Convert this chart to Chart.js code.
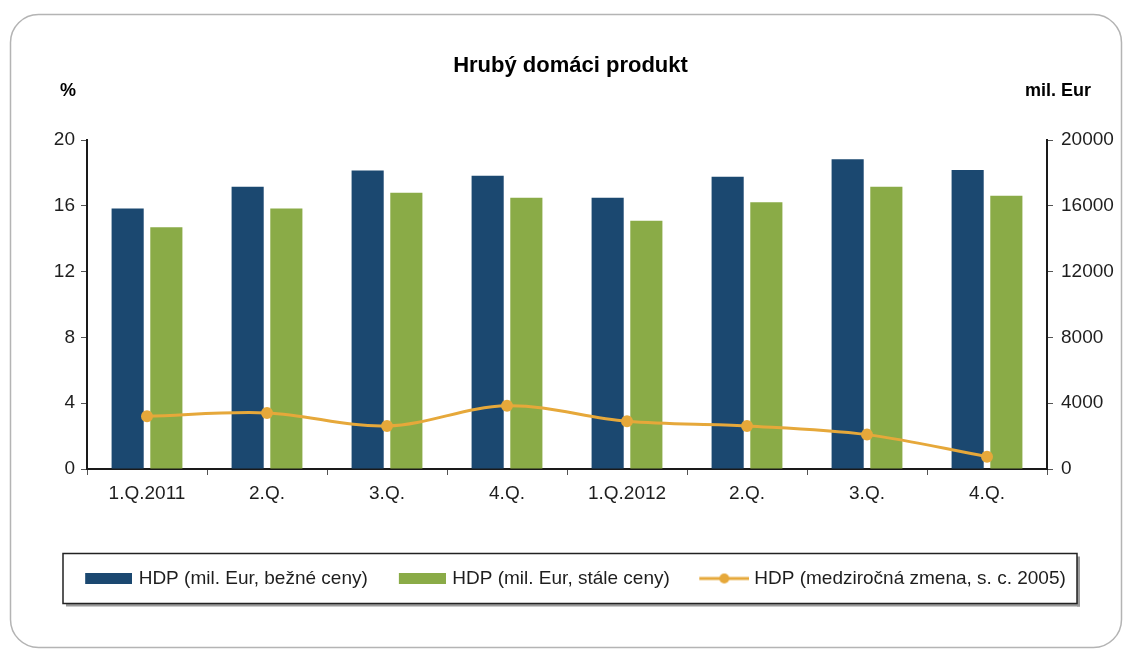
<!DOCTYPE html>
<html lang="sk">
<head>
<meta charset="utf-8">
<title>Hrubý domáci produkt</title>
<script src="https://cdn.jsdelivr.net/npm/chart.js@4.4.1/dist/chart.umd.min.js"></script>
<style>
  html, body { margin: 0; padding: 0; background: #ffffff; }
  #wrap { position: relative; width: 1123px; height: 650px; }
</style>
</head>
<body>
<div id="wrap"><canvas id="hdp" width="1123" height="650"></canvas></div>
<script>
// Quarterly GDP: nominal and real level (mil. EUR, right axis), year-on-year change (%, left axis)
const quarters = ['1.Q.2011', '2.Q.', '3.Q.', '4.Q.', '1.Q.2012', '2.Q.', '3.Q.', '4.Q.'];
const gdpNominal = [15840, 17160, 18140, 17830, 16490, 17770, 18830, 18180];
const gdpReal = [14690, 15840, 16800, 16490, 15090, 16210, 17160, 16610];
const gdpGrowth = [3.2, 3.41, 2.62, 3.84, 2.9, 2.62, 2.09, 0.75];

const percentTicks = [0, 4, 8, 12, 16, 20];
const millionTicks = [0, 4000, 8000, 12000, 16000, 20000];

const seriesNames = [
  'HDP (mil. Eur, bežné ceny)',
  'HDP (mil. Eur, stále ceny)',
  'HDP (medziročná zmena, s. c. 2005)'
];

const NAVY = '#1b4870';
const GREEN = '#8aab47';
const ORANGE = '#e6a83a';
const TEXT = '#1e1e1e';
const FONT = "'Liberation Sans', Arial, sans-serif";
const LEGEND_SIZE = 19;

// legend markers; a blank lead-in keeps the text close to its marker
const LEAD = LEGEND_SIZE / 2 - 3;
function rectMarker(color) {
  const c = document.createElement('canvas');
  c.width = Math.round(47 + 2 * LEAD); c.height = 11;
  const g = c.getContext('2d');
  g.fillStyle = color;
  g.fillRect(c.width - 47, 0, 47, 11);
  return c;
}
function lineMarker(color) {
  const c = document.createElement('canvas');
  c.width = Math.round(50 + 2 * LEAD); c.height = 12;
  const g = c.getContext('2d');
  const x0 = c.width - 50;
  g.strokeStyle = color;
  g.lineWidth = 3;
  g.beginPath(); g.moveTo(x0, 6); g.lineTo(x0 + 50, 6); g.stroke();
  g.fillStyle = color;
  g.beginPath(); g.arc(x0 + 25, 6, 5, 0, Math.PI * 2); g.fill();
  return c;
}
const markers = [rectMarker(NAVY), rectMarker(GREEN), lineMarker(ORANGE)];

// outer rounded frame, unit captions and the boxed legend
const decorations = {
  id: 'decorations',
  beforeDraw(chart) {
    const ctx = chart.ctx;
    ctx.save();
    ctx.strokeStyle = '#b4b4b4';
    ctx.lineWidth = 1.5;
    ctx.beginPath();
    ctx.roundRect(10.5, 14.5, 1111, 633, 28);
    ctx.stroke();
    ctx.restore();
  },
  afterDraw(chart) {
    const ctx = chart.ctx;
    const area = chart.chartArea;
    ctx.save();
    ctx.fillStyle = '#000';
    ctx.font = 'bold 18px ' + FONT;
    ctx.textBaseline = 'middle';
    ctx.textAlign = 'left';
    ctx.fillText('%', area.left - 27, area.top - 49);
    ctx.textAlign = 'right';
    ctx.fillText('mil. Eur', area.right + 44, area.top - 49);

    const boxes = chart.legend.legendHitBoxes;
    if (boxes && boxes.length) {
      const cy = boxes[0].top + boxes[0].height / 2;
      const x0 = area.left - 24, x1 = area.right + 30;
      const y0 = cy - 25, y1 = cy + 25;
      ctx.fillStyle = '#9a9a9a';
      ctx.fillRect(x0 + 3, y1, x1 - x0, 3);
      ctx.fillRect(x1, y0 + 3, 3, y1 - y0);
      ctx.strokeStyle = '#222';
      ctx.lineWidth = 1.5;
      ctx.strokeRect(x0, y0, x1 - x0, y1 - y0);
    }
    ctx.restore();
  }
};

const plainNumber = (value) => String(value);

new Chart(document.getElementById('hdp'), {
  type: 'bar',
  data: {
    labels: quarters,
    datasets: [
      {
        label: seriesNames[0],
        data: gdpNominal,
        yAxisID: 'yMil',
        backgroundColor: NAVY,
        categoryPercentage: 0.645,
        barPercentage: 0.83,
        order: 1
      },
      {
        label: seriesNames[1],
        data: gdpReal,
        yAxisID: 'yMil',
        backgroundColor: GREEN,
        categoryPercentage: 0.645,
        barPercentage: 0.83,
        order: 1
      },
      {
        type: 'line',
        label: seriesNames[2],
        data: gdpGrowth,
        yAxisID: 'yPct',
        borderColor: ORANGE,
        backgroundColor: ORANGE,
        borderWidth: 3,
        pointRadius: 6,
        pointBorderWidth: 0,
        pointBackgroundColor: ORANGE,
        tension: 0.35,
        order: 0
      }
    ]
  },
  options: {
    responsive: false,
    animation: false,
    devicePixelRatio: 1,
    layout: { padding: { top: 0, left: 18, right: 0, bottom: 52 } },
    plugins: {
      tooltip: { enabled: false },
      title: {
        display: true,
        text: 'Hrubý domáci produkt',
        color: '#000',
        font: { family: FONT, size: 22, weight: 'bold', lineHeight: 1.2 },
        padding: { top: 53, bottom: 60.6 }
      },
      legend: {
        display: true,
        position: 'bottom',
        labels: {
          color: TEXT,
          font: { family: FONT, size: LEGEND_SIZE },
          usePointStyle: true,
          pointStyleWidth: Math.round(47 + LEAD),
          boxHeight: 11,
          padding: 21,
          generateLabels(chart) {
            return chart.data.datasets.map((ds, i) => ({
              text: ds.label,
              pointStyle: markers[i],
              fillStyle: i === 2 ? ORANGE : ds.backgroundColor,
              strokeStyle: 'transparent',
              lineWidth: 0,
              fontColor: TEXT,
              datasetIndex: i,
              hidden: false
            }));
          }
        }
      }
    },
    scales: {
      x: {
        offset: true,
        grid: {
          display: true,
          drawOnChartArea: false,
          drawTicks: true,
          tickLength: 6,
          color: '#555',
          offset: true
        },
        border: { display: true, color: '#1a1a1a', width: 2 },
        ticks: { color: TEXT, font: { family: FONT, size: 19 }, padding: 7, maxRotation: 0 },
        afterFit(scale) { scale.height = 79; }
      },
      yPct: {
        position: 'left',
        min: 0,
        max: 20,
        afterBuildTicks(scale) { scale.ticks = percentTicks.map(v => ({ value: v })); },
        grid: { display: true, drawOnChartArea: false, drawTicks: true, tickLength: 6, color: '#555' },
        border: { display: true, color: '#1a1a1a', width: 2 },
        ticks: { color: TEXT, font: { family: FONT, size: 19 }, padding: 6, callback: plainNumber },
        afterFit(scale) { scale.width = 69; }
      },
      yMil: {
        position: 'right',
        min: 0,
        max: 20000,
        afterBuildTicks(scale) { scale.ticks = millionTicks.map(v => ({ value: v })); },
        grid: { display: true, drawOnChartArea: false, drawTicks: true, tickLength: 6, color: '#555' },
        border: { display: true, color: '#1a1a1a', width: 2 },
        ticks: { color: TEXT, font: { family: FONT, size: 19 }, padding: 8, callback: plainNumber },
        afterFit(scale) { scale.width = 76; }
      }
    }
  },
  plugins: [decorations]
});
</script>
</body>
</html>
